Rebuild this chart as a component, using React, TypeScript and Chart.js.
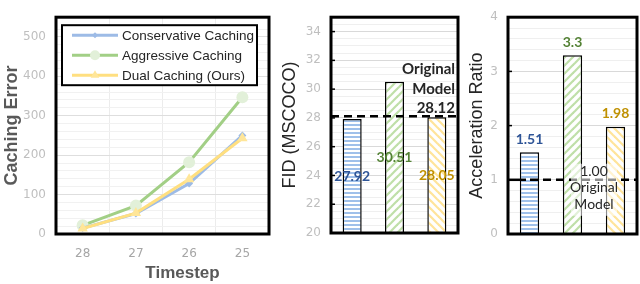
import React, { useEffect, useRef } from 'react';
import { Chart, registerables } from 'chart.js';
Chart.register(...registerables);

// ---------- data ----------
const timesteps = ['28', '27', '26', '25'];
const conservative = [15, 52, 128, 250];
const aggressive = [22, 72, 182, 347];
const dual = [14, 53, 139, 243];
const methodNames = ['Conservative Caching', 'Aggressive Caching', 'Dual Caching (Ours)'];

const barCategories = ['Conservative', 'Aggressive', 'Dual'];
const fidValues = [27.92, 30.51, 28.05];
const fidOriginal = 28.12;
const accelValues = [1.51, 3.3, 1.98];
const accelOriginal = 1.0;
const originalLabel = ['Original', 'Model'];

// ---------- styles ----------
const SANS = '"Liberation Sans", Arial, sans-serif';
const TICKF = '"DejaVu Sans", sans-serif';
const CAL = 'Lato, "Open Sans", sans-serif';
const lineColors = ['#9dbbe6', '#a2cf86', '#ffdf80'];
const labelColors = ['#2f5597', '#548235', '#bf9000'];

function isMult(v: number, step: number) {
  return Math.abs(v / step - Math.round(v / step)) < 1e-6;
}

function makePattern(kind: 'h' | 'f' | 'b', color: string): CanvasPattern {
  const c = document.createElement('canvas');
  const s = kind === 'h' ? 4 : 8;
  c.width = s;
  c.height = s;
  const g = c.getContext('2d')!;
  g.fillStyle = '#fff';
  g.fillRect(0, 0, s, s);
  if (kind === 'h') {
    g.fillStyle = color;
    g.fillRect(0, 0, s, 2);
  } else {
    g.strokeStyle = color;
    g.lineWidth = 2.2;
    const segs =
      kind === 'f'
        ? [[-1, s + 1, s + 1, -1], [-1, 1, 1, -1], [s - 1, s + 1, s + 1, s - 1]]
        : [[-1, -1, s + 1, s + 1], [s - 1, -1, s + 1, 1], [-1, s - 1, 1, s + 1]];
    segs.forEach(([a, b, c2, d]) => {
      g.beginPath();
      g.moveTo(a, b);
      g.lineTo(c2, d);
      g.stroke();
    });
  }
  return g.createPattern(c, 'repeat')!;
}

const framePlugin = {
  id: 'frame',
  afterDraw(chart: any) {
    const { ctx, chartArea: a } = chart;
    ctx.save();
    ctx.strokeStyle = '#000';
    ctx.lineWidth = 3;
    ctx.strokeRect(a.left, a.top, a.right - a.left, a.bottom - a.top);
    ctx.restore();
  },
};

const innerTicksPlugin = (step: number) => ({
  id: 'innerTicks',
  afterDraw(chart: any) {
    const { ctx, chartArea: a } = chart;
    const y = chart.scales.y;
    ctx.save();
    ctx.strokeStyle = '#000';
    ctx.lineWidth = 1.5;
    y.ticks.forEach((t: any) => {
      if (!isMult(t.value, step)) return;
      const p = y.getPixelForValue(t.value);
      ctx.beginPath();
      ctx.moveTo(a.left, p);
      ctx.lineTo(a.left + 4, p);
      ctx.stroke();
    });
    ctx.restore();
  },
});

function drawMarker(ctx: CanvasRenderingContext2D, style: string, x: number, y: number, r: number, fill: string) {
  ctx.fillStyle = fill;
  ctx.beginPath();
  if (style === 'circle') {
    ctx.arc(x, y, r, 0, Math.PI * 2);
  } else if (style === 'rectRot') {
    ctx.moveTo(x, y - r);
    ctx.lineTo(x + r, y);
    ctx.lineTo(x, y + r);
    ctx.lineTo(x - r, y);
    ctx.closePath();
  } else {
    ctx.moveTo(x, y - r);
    ctx.lineTo(x + r * 0.87, y + r * 0.5);
    ctx.lineTo(x - r * 0.87, y + r * 0.5);
    ctx.closePath();
  }
  ctx.fill();
}

function makeLineChart(canvas: HTMLCanvasElement) {
  const markerStyles = ['rectRot', 'circle', 'triangle'];
  const markerFills = ['#9dbbe6', '#e2f0d9', '#ffe699'];
  const markerSizes = [4, 6, 6];
  const series = [conservative, aggressive, dual];
  const orders = [2, 3, 1];
  const legendPlugin = {
    id: 'insideLegend',
    afterDraw(chart: any) {
      const { ctx, chartArea: a } = chart;
      const bx = a.left + 6;
      const by = a.top + 8;
      ctx.save();
      ctx.fillStyle = '#fff';
      ctx.fillRect(bx, by, 195, 60);
      ctx.strokeStyle = '#000';
      ctx.lineWidth = 2;
      ctx.strokeRect(bx, by, 195, 60);
      methodNames.forEach((name, i) => {
        const yy = by + 10 + i * 20;
        ctx.strokeStyle = lineColors[i];
        ctx.lineWidth = 3;
        ctx.beginPath();
        ctx.moveTo(bx + 10, yy);
        ctx.lineTo(bx + 56, yy);
        ctx.stroke();
        drawMarker(ctx, markerStyles[i], bx + 33, yy, markerSizes[i] - 1, markerFills[i]);
        ctx.fillStyle = '#262626';
        ctx.font = `13.5px ${SANS}`;
        ctx.textAlign = 'left';
        ctx.textBaseline = 'middle';
        ctx.fillText(name, bx + 60, yy + 1);
      });
      // x-axis title
      ctx.fillStyle = '#595959';
      ctx.font = `bold 17px ${SANS}`;
      ctx.textAlign = 'center';
      ctx.textBaseline = 'middle';
      ctx.fillText('Timestep', (a.left + a.right) / 2 + 20, 273);
      ctx.restore();
    },
  };
  return new Chart(canvas, {
    type: 'line',
    data: {
      labels: timesteps,
      datasets: series.map((d, i) => ({
        label: methodNames[i],
        data: d,
        borderColor: lineColors[i],
        backgroundColor: markerFills[i],
        pointBackgroundColor: markerFills[i],
        pointBorderWidth: 0,
        pointStyle: markerStyles[i] as any,
        pointRadius: markerSizes[i],
        borderWidth: 3,
        tension: 0,
        order: orders[i],
      })),
    },
    options: {
      animation: false,
      responsive: false,
      devicePixelRatio: 1,
      layout: { padding: { top: 6, right: 16, left: 0, bottom: 0 } },
      plugins: { legend: { display: false }, tooltip: { enabled: false } },
      scales: {
        x: {
          offset: true,
          grid: { offset: true, color: '#ececec', drawTicks: false },
          border: { display: false },
          ticks: { color: '#a6a6a6', font: { family: TICKF, size: 12 }, padding: 13 },
          afterFit: (s: any) => {
            s.height = 50;
          },
        },
        y: {
          min: 0,
          max: 550,
          ticks: {
            stepSize: 20,
            autoSkip: false,
            color: '#bfbfbf',
            font: { family: TICKF, size: 12 },
            padding: 10,
            callback: (v: any) => (isMult(Number(v), 100) ? String(v) : ''),
          },
          grid: {
            drawTicks: false,
            color: (c: any) => (isMult(c.tick.value, 100) ? '#dedede' : '#f1f1f1'),
          },
          border: { display: false },
          title: {
            display: true,
            text: 'Caching Error',
            color: '#595959',
            font: { family: SANS, size: 18, weight: 'bold' },
            padding: { top: 1, bottom: 0 },
          },
          afterFit: (s: any) => {
            s.width = 56;
          },
        },
      },
    },
    plugins: [framePlugin, legendPlugin],
  } as any);
}

function makeBarChart(
  canvas: HTMLCanvasElement,
  values: number[],
  opts: {
    min: number;
    max: number;
    minor: number;
    major: number;
    title: string;
    axisWidth: number;
    titlePad: number;
    padRight: number;
    padBottom: number;
    extra: any;
  }
) {
  const patterns = [
    makePattern('h', '#9fc0ea'),
    makePattern('f', '#bfdfa8'),
    makePattern('b', '#ffe49a'),
  ];
  return new Chart(canvas, {
    type: 'bar',
    data: {
      labels: barCategories,
      datasets: [
        {
          data: values,
          backgroundColor: patterns,
          borderColor: '#000',
          borderWidth: 1.5,
          barPercentage: 0.45,
          categoryPercentage: 1,
        },
      ],
    },
    options: {
      animation: false,
      responsive: false,
      devicePixelRatio: 1,
      layout: { padding: { top: 6, right: opts.padRight, left: 0, bottom: opts.padBottom } },
      plugins: { legend: { display: false }, tooltip: { enabled: false } },
      scales: {
        x: { display: false },
        y: {
          min: opts.min,
          max: opts.max,
          ticks: {
            stepSize: opts.minor,
            autoSkip: false,
            color: '#bfbfbf',
            font: { family: TICKF, size: 12 },
            padding: 10,
            callback: (v: any) => (isMult(Number(v), opts.major) ? String(Math.round(Number(v))) : ''),
          },
          grid: {
            drawTicks: false,
            color: (c: any) => (isMult(c.tick.value, opts.major) ? '#d9d9d9' : '#efefef'),
          },
          border: { display: false },
          title: {
            display: true,
            text: opts.title,
            color: '#262626',
            font: { family: SANS, size: 18 },
            padding: { top: opts.titlePad, bottom: 0 },
          },
          afterFit: (s: any) => {
            s.width = opts.axisWidth;
          },
        },
      },
    },
    plugins: [framePlugin, innerTicksPlugin(opts.major), opts.extra],
  } as any);
}

function fidLabels() {
  return {
    id: 'fidLabels',
    afterDatasetsDraw(chart: any) {
      const { ctx, chartArea: a } = chart;
      const y = chart.scales.y;
      const meta = chart.getDatasetMeta(0);
      const yp = y.getPixelForValue(fidOriginal);
      ctx.save();
      ctx.strokeStyle = '#000';
      ctx.lineWidth = 2.5;
      ctx.setLineDash([8, 5]);
      ctx.beginPath();
      ctx.moveTo(a.left, yp);
      ctx.lineTo(a.right, yp);
      ctx.stroke();
      ctx.setLineDash([]);
      ctx.textBaseline = 'middle';
      ctx.textAlign = 'center';
      ctx.font = `bold 14px ${CAL}`;
      meta.data.forEach((bar: any, i: number) => {
        const mid = y.getPixelForValue((y.min + fidValues[i]) / 2);
        ctx.fillStyle = labelColors[i];
        ctx.fillText(fidValues[i].toFixed(2), bar.x, mid);
      });
      ctx.textAlign = 'right';
      ctx.fillStyle = '#262626';
      ctx.font = `bold 15px ${CAL}`;
      ctx.fillText(originalLabel[0], a.right - 3, yp - 47);
      ctx.fillText(originalLabel[1], a.right - 3, yp - 27);
      ctx.fillText(fidOriginal.toFixed(2), a.right - 3, yp - 8);
      ctx.restore();
    },
  };
}

function accelLabels() {
  return {
    id: 'accelLabels',
    afterDatasetsDraw(chart: any) {
      const { ctx, chartArea: a } = chart;
      const y = chart.scales.y;
      const meta = chart.getDatasetMeta(0);
      const yp = y.getPixelForValue(accelOriginal);
      ctx.save();
      ctx.strokeStyle = '#000';
      ctx.lineWidth = 2.5;
      ctx.beginPath();
      ctx.moveTo(a.left, yp);
      ctx.lineTo(a.left + 18, yp);
      ctx.stroke();
      ctx.setLineDash([8, 5]);
      ctx.beginPath();
      ctx.moveTo(a.left + 22, yp);
      ctx.lineTo(a.right, yp);
      ctx.stroke();
      ctx.setLineDash([]);
      ctx.textBaseline = 'middle';
      ctx.textAlign = 'center';
      ctx.font = `bold 14px ${CAL}`;
      meta.data.forEach((bar: any, i: number) => {
        ctx.fillStyle = labelColors[i];
        ctx.fillText(String(accelValues[i]), bar.x, y.getPixelForValue(accelValues[i]) - 13);
      });
      const cx = (meta.data[1].x + meta.data[2].x) / 2;
      ctx.fillStyle = 'rgba(255,255,255,0.55)';
      ctx.fillRect(cx - 23, yp - 16, 46, 52);
      ctx.fillStyle = '#262626';
      ctx.font = `14px ${CAL}`;
      ctx.fillText(accelOriginal.toFixed(2), cx, yp - 8);
      ctx.fillText(originalLabel[0], cx, yp + 8);
      ctx.fillText(originalLabel[1], cx, yp + 25);
      ctx.restore();
    },
  };
}

export default function App() {
  const r1 = useRef<HTMLCanvasElement>(null);
  const r2 = useRef<HTMLCanvasElement>(null);
  const r3 = useRef<HTMLCanvasElement>(null);
  useEffect(() => {
    const charts = [
      makeLineChart(r1.current!),
      makeBarChart(r2.current!, fidValues, {
        min: 20,
        max: 35,
        minor: 0.5,
        major: 2,
        title: 'FID (MSCOCO)',
        axisWidth: 53,
        titlePad: 1,
        padRight: 4,
        padBottom: 51,
        extra: fidLabels(),
      }),
      makeBarChart(r3.current!, accelValues, {
        min: 0,
        max: 4,
        minor: 0.2,
        major: 1,
        title: 'Acceleration Ratio',
        axisWidth: 46,
        titlePad: 4,
        padRight: 3,
        padBottom: 50,
        extra: accelLabels(),
      }),
    ];
    return () => charts.forEach((c) => c.destroy());
  }, []);
  return (
    <div style={{ position: 'fixed', left: 0, top: 0, width: 640, height: 284, background: '#fff' }}>
      <canvas ref={r1} width={285} height={284} style={{ position: 'absolute', left: 0, top: 0 }} />
      <canvas ref={r2} width={184} height={284} style={{ position: 'absolute', left: 278, top: 0 }} />
      <canvas ref={r3} width={178} height={284} style={{ position: 'absolute', left: 462, top: 0 }} />
    </div>
  );
}
